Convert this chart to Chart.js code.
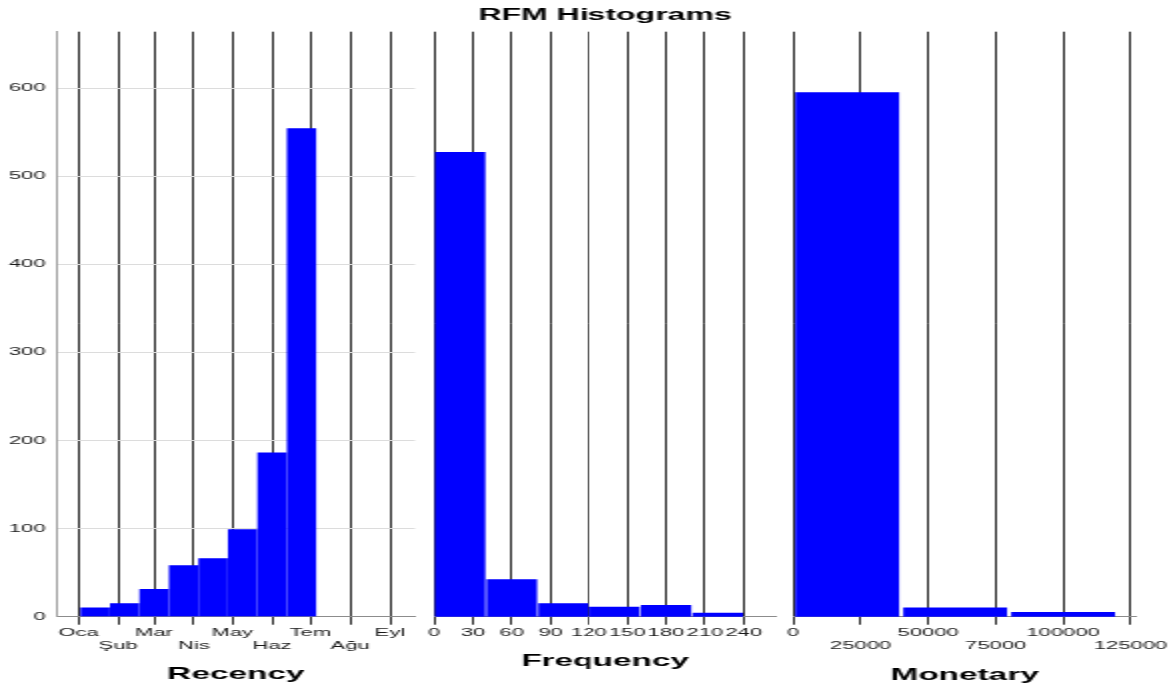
<!DOCTYPE html>
<html>
<head>
<meta charset="utf-8">
<title>RFM Histograms</title>
<script src="https://cdn.jsdelivr.net/npm/chart.js@4.4.1/dist/chart.umd.min.js"></script>
<style>
  html, body { margin: 0; padding: 0; background: #fff; overflow: hidden; }
  /* the source picture is stretched about 2x sideways: draw it narrow, then widen */
  #stage { position: relative; width: 588px; height: 691px; transform: scaleX(1.9983); transform-origin: 0 0; }
  #stage canvas { position: absolute; top: 0; }
</style>
</head>
<body>
<div id="stage">
  <canvas id="recency" width="210" height="691" style="left:0px"></canvas>
  <canvas id="frequency" width="180" height="691" style="left:210px"></canvas>
  <canvas id="monetary" width="198" height="691" style="left:390px"></canvas>
</div>
<script>
// Recency: day of year (0 = 1 Jan), bins of ~23 days
const monthNames = ['Oca', 'Şub', 'Mar', 'Nis', 'May', 'Haz', 'Tem', 'Ağu', 'Eyl'];
const monthStartDays = [0, 31, 59, 90, 120, 151, 181, 212, 243];
const recencyBinDays = [13, 36, 59, 82, 105, 128, 151, 174];
const recencyCounts = [10, 15, 31, 58, 66, 99, 186, 554];

// Frequency: bins of 40
const frequencyBins = [20, 60, 100, 140, 180, 220];
const frequencyCounts = [527, 42, 15, 11, 13, 4];
const frequencyTicks = [0, 30, 60, 90, 120, 150, 180, 210, 240];

// Monetary: bins of 40000
const monetaryBins = [20000, 60000, 100000];
const monetaryCounts = [595, 10, 5];
const monetaryTicks = [0, 25000, 50000, 75000, 100000, 125000];

const countTicks = [0, 100, 200, 300, 400, 500, 600];
const countMax = 664;

const FONT = "'Liberation Sans', Arial, sans-serif";
const AXIS_BOTTOM = 616.7;

function xScale(min, max, ticks, label, labelFn, titlePad) {
    return {
        type: 'linear',
        min: min,
        max: max,
        offset: false,
        afterBuildTicks: s => { s.ticks = ticks.map(v => ({ value: v })); },
        afterFit: s => { s.height = 691 - AXIS_BOTTOM; },
        grid: { offset: false, color: '#2b2b2b', lineWidth: 1, tickLength: 8, tickColor: '#2b2b2b' },
        border: { color: '#8c8c8c' },
        ticks: {
            autoSkip: false,
            maxRotation: 0,
            minRotation: 0,
            padding: 1,
            color: '#1a1a1a',
            font: { family: FONT, size: 11, lineHeight: 1.25 },
            callback: labelFn
        },
        title: {
            display: true,
            text: label,
            color: '#000',
            font: { family: FONT, size: 16.7, weight: 'bold', lineHeight: 1.2 },
            padding: { top: 0, bottom: titlePad }
        }
    };
}

function makeChart(id, bins, counts, x, y, padding, title) {
    return new Chart(document.getElementById(id), {
        type: 'bar',
        data: {
            datasets: [{
                data: bins.map((b, i) => ({ x: b, y: counts[i] })),
                backgroundColor: '#0000ff',
                barThickness: 'flex',
                categoryPercentage: 1,
                barPercentage: 0.95
            }]
        },
        options: {
            responsive: false,
            animation: false,
            layout: { padding: padding },
            plugins: {
                legend: { display: false },
                tooltip: { enabled: false },
                title: title || { display: false }
            },
            scales: { x: x, y: y }
        }
    });
}

const hiddenY = { display: false, min: 0, max: countMax };

makeChart('recency', recencyBinDays, recencyCounts,
    xScale(-17, 262.5, monthStartDays, 'Recency', v => {
        const i = monthStartDays.indexOf(v);
        return i % 2 ? ['', monthNames[i]] : monthNames[i];
    }, 6.5),
    {
        min: 0,
        max: countMax,
        afterBuildTicks: s => { s.ticks = countTicks.map(v => ({ value: v })); },
        afterFit: s => { s.width = 28.35; },
        grid: { color: '#dcdcdc', drawTicks: false },
        border: { color: '#a0a0a0' },
        ticks: { padding: 5.5, color: '#1a1a1a', font: { family: FONT, size: 11 } }
    },
    { left: 0, right: 2.5, top: 31.7, bottom: 0 });

makeChart('frequency', frequencyBins, frequencyCounts,
    xScale(0, 265, frequencyTicks, 'Frequency', v => String(v), 20),
    hiddenY,
    { left: 7.15, right: 1.5, top: 0, bottom: 0 },
    {
        display: true,
        text: 'RFM Histograms',
        color: '#000',
        font: { family: FONT, size: 16, weight: 'bold', lineHeight: 1.2 },
        padding: { top: 6, bottom: 6.5 }
    });

makeChart('monetary', monetaryBins, monetaryCounts,
    xScale(0, 127000, monetaryTicks, 'Monetary', (v, i) => i % 2 ? ['', String(v)] : String(v), 5.5),
    hiddenY,
    { left: 7.15, right: 19.5, top: 31.7, bottom: 0 });
</script>
</body>
</html>
